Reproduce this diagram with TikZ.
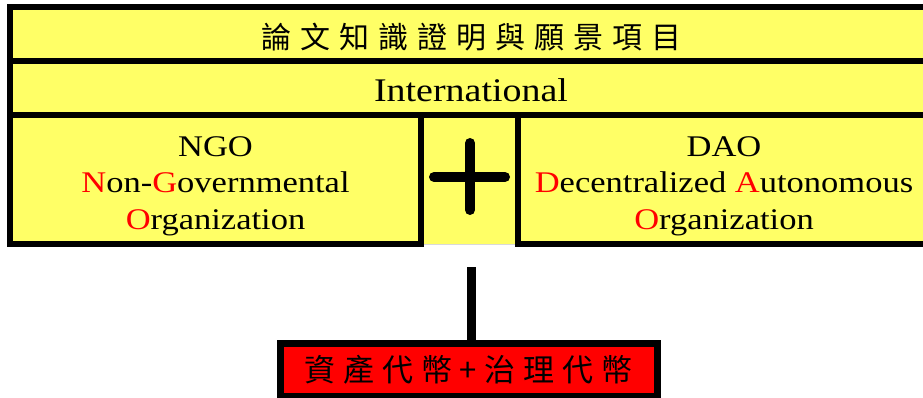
\documentclass[tikz,border=0pt]{standalone}
\usepackage{fontspec}
\setmainfont{Liberation Serif}[FakeStretch=1.15]
\newfontfamily\cjk[LetterSpace=30]{Noto Sans CJK TC}
\newfontfamily\cjktoken[LetterSpace=25]{Noto Sans CJK TC}
\usepackage{tikz}
\usetikzlibrary{positioning}
\definecolor{boxyellow}{RGB}{255,255,102}
\definecolor{tokenred}{RGB}{255,0,0}
\newcommand{\rl}[1]{\textcolor{red}{#1}}

\begin{document}
\begin{tikzpicture}[x=1pt,y=-1pt,
  every node/.style={inner sep=0pt,outer sep=0pt},
  frame/.style={draw,line width=6pt,fill=boxyellow,rectangle},
  rowbox/.style={frame,minimum width=920pt,minimum height=54pt},
  orgbox/.style={frame,minimum height=129pt},
  orgtext/.style={align=center,font=\fontsize{30}{36.5}\selectfont}]
\useasboundingbox (0,0) rectangle (923,398);
\node[rowbox] (title) at (470,34) {};
\node[font=\cjk\fontsize{30}{30}\selectfont] (titletext) at (471,37) {論文知識證明與願景項目};
\node[rowbox] (intl) at (470,88) {};
\node[font=\fontsize{33}{33}\selectfont] (intltext) at (471,90) {International};
% middle column with the plus
\node[fill=boxyellow,minimum width=97pt,minimum height=129pt] (mid) at (469.5,179.5) {};
\draw[black!15,line width=1pt] (mid.south west) -- (mid.south east);
\draw[line width=6pt] (421,115) -- (518,115);
\draw[line width=10pt,line cap=round] (434,177) -- (505,177);
\draw[line width=10pt,line cap=round] (470,143) -- (470,210);
\node[orgbox,minimum width=411pt] (ngo) at (215.5,179.5) {};
\node[orgtext] (ngotext) at (215.5,186)
  {NGO\\ \rl{N}on-\rl{G}overnmental\\ \rl{O}rganization};
\node[orgbox,minimum width=412pt] (dao) at (724,179.5) {};
\node[orgtext] (daotext) at (724,186)
  {DAO\\ \rl{D}ecentralized \rl{A}utonomous\\ \rl{O}rganization};
% token box
\node[draw,line width=7pt,fill=tokenred,minimum width=377pt,minimum height=53pt,
  font=\cjktoken\fontsize{31}{31}\selectfont] (token) at (468.5,369.5) {資產代幣+治理代幣};
\coordinate (stem) at (471,267);
\draw[line width=9pt] (stem) -- (stem |- token.north);
\end{tikzpicture}
\end{document}
